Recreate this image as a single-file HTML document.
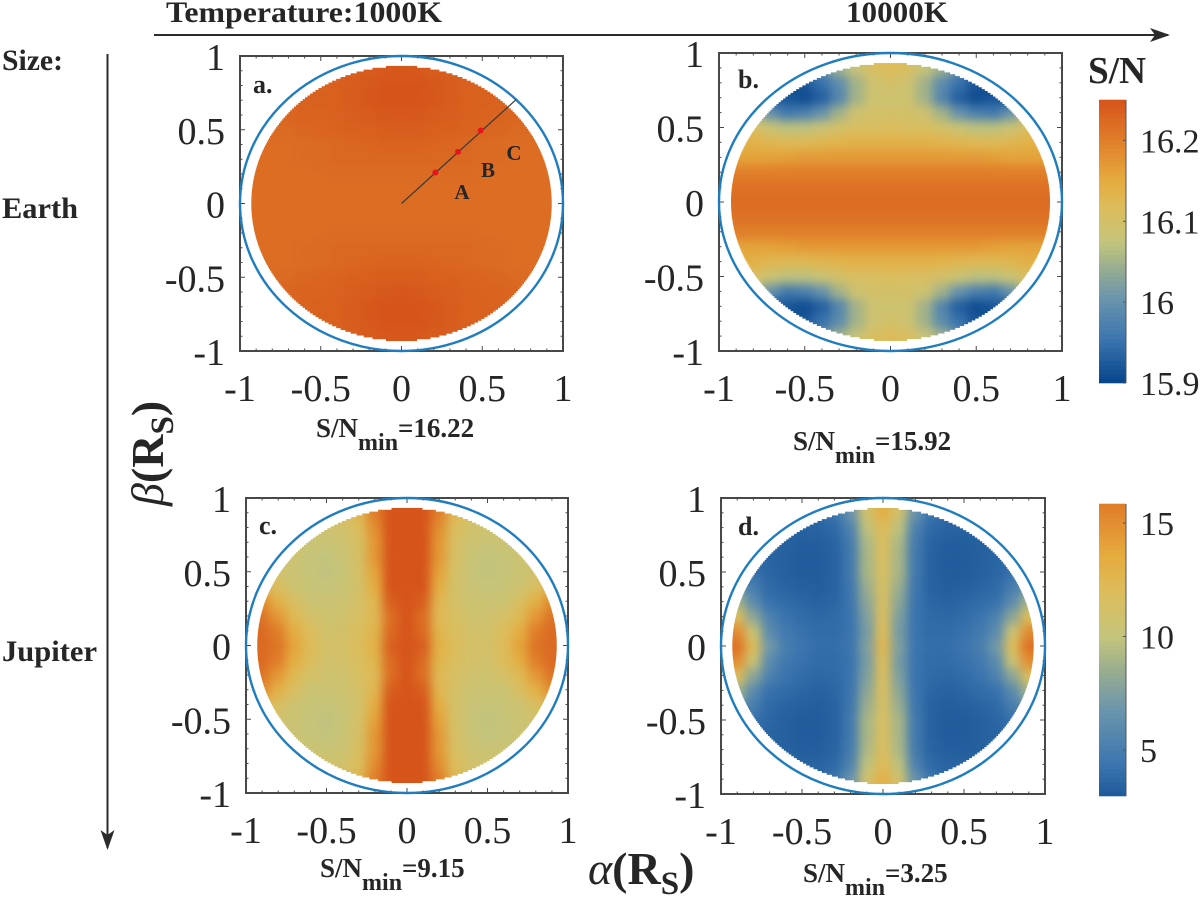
<!DOCTYPE html>
<html lang="en">
<head>
<meta charset="utf-8">
<title>S/N maps by temperature and planet size</title>
<style>
html,body{margin:0;padding:0;background:#fff;width:1200px;height:904px;overflow:hidden}
svg{display:block}
text{font-family:"Liberation Serif","DejaVu Serif",serif;fill:#262626}
.b{font-weight:bold}
</style>
</head>
<body>
<svg id="figure" xmlns="http://www.w3.org/2000/svg" width="1200" height="904" viewBox="0 0 1200 904">
  <defs>
    <filter id="smooth" x="0" y="0" width="1200" height="904" filterUnits="userSpaceOnUse" color-interpolation-filters="sRGB">
      <feGaussianBlur stdDeviation="5"/>
    </filter>
    <marker id="head" viewBox="0 0 20 14" refX="18" refY="7" markerWidth="20" markerHeight="14" markerUnits="userSpaceOnUse" orient="auto">
      <path d="M0 0 L20 7 L0 14 L5 7 Z" fill="#2b2b2b"/>
    </marker>
  </defs>

  <g>
    <text class="b" x="166" y="22" font-size="30" textLength="276" lengthAdjust="spacingAndGlyphs">Temperature:1000K</text>
    <text class="b" x="846" y="22" font-size="30" textLength="102" lengthAdjust="spacingAndGlyphs">10000K</text>
    <line x1="154" y1="35" x2="1168" y2="35" stroke="#2b2b2b" stroke-width="2" marker-end="url(#head)"/>
  </g>

  <g>
    <text class="b" x="2" y="70" font-size="30" textLength="61" lengthAdjust="spacingAndGlyphs">Size:</text>
    <text class="b" x="2" y="218" font-size="30" textLength="76" lengthAdjust="spacingAndGlyphs">Earth</text>
    <text class="b" x="2" y="661" font-size="30" textLength="95" lengthAdjust="spacingAndGlyphs">Jupiter</text>
    <line x1="107.5" y1="54" x2="107.5" y2="848" stroke="#2b2b2b" stroke-width="2" marker-end="url(#head)"/>
  </g>

  <g id="panels"></g>

  <g>
    <text class="b" x="316" y="437" font-size="27">S/N<tspan font-size="24" dy="13">min</tspan><tspan dy="-13">=16.22</tspan></text>
    <text class="b" x="793" y="450" font-size="27">S/N<tspan font-size="24" dy="13">min</tspan><tspan dy="-13">=15.92</tspan></text>
    <text class="b" x="320" y="877" font-size="27">S/N<tspan font-size="24" dy="13">min</tspan><tspan dy="-13">=9.15</tspan></text>
    <text class="b" x="803" y="882" font-size="27">S/N<tspan font-size="24" dy="13">min</tspan><tspan dy="-13">=3.25</tspan></text>
    <text class="b" x="1088" y="83" font-size="38" textLength="58" lengthAdjust="spacingAndGlyphs">S/N</text>
    <text x="588" y="884" font-size="46"><tspan font-style="italic">α</tspan><tspan font-weight="bold">(R</tspan><tspan font-weight="bold" font-size="33" dy="10">S</tspan><tspan font-weight="bold" dy="-10">)</tspan></text>
    <text transform="translate(163,506) rotate(-90)" font-size="46"><tspan font-style="italic">β</tspan><tspan font-weight="bold">(R</tspan><tspan font-weight="bold" font-size="33" dy="10">S</tspan><tspan font-weight="bold" dy="-10">)</tspan></text>
  </g>

  <g id="colorbars"></g>
</svg>

<script>
// Chart data: S/N on one quadrant grid. Rows are |beta| = 0..1, columns are |alpha| = 0..1, in steps of 0.1.
const gridCoords = [0, 0.1, 0.2, 0.3, 0.4, 0.5, 0.6, 0.7, 0.8, 0.9, 1];
const axisTicks = [-1, -0.5, 0, 0.5, 1];
const axisTickLabels = ["-1", "-0.5", "0", "0.5", "1"];

const snrA = [
  [16.22,16.22,16.22,16.22,16.22,16.22,16.22,16.22,16.22,16.22,16.22],
  [16.22,16.22,16.22,16.22,16.22,16.22,16.22,16.22,16.22,16.22,16.22],
  [16.222,16.222,16.222,16.222,16.222,16.22,16.22,16.22,16.22,16.22,16.22],
  [16.226,16.226,16.226,16.226,16.226,16.224,16.222,16.22,16.22,16.22,16.22],
  [16.232,16.232,16.23,16.228,16.226,16.224,16.222,16.22,16.22,16.22,16.22],
  [16.238,16.238,16.236,16.234,16.232,16.23,16.228,16.224,16.222,16.222,16.222],
  [16.246,16.245,16.242,16.238,16.235,16.233,16.232,16.23,16.226,16.224,16.224],
  [16.25,16.25,16.246,16.24,16.236,16.234,16.233,16.232,16.23,16.228,16.228],
  [16.25,16.25,16.245,16.24,16.236,16.234,16.233,16.232,16.232,16.232,16.232],
  [16.246,16.245,16.242,16.238,16.234,16.233,16.233,16.233,16.233,16.233,16.233],
  [16.246,16.245,16.242,16.238,16.234,16.233,16.233,16.233,16.233,16.233,16.233]
];
const snrB = [
  [16.22,16.22,16.22,16.22,16.22,16.22,16.22,16.22,16.22,16.22,16.22],
  [16.215,16.215,16.215,16.215,16.215,16.215,16.215,16.215,16.215,16.215,16.215],
  [16.2,16.2,16.2,16.2,16.2,16.2,16.2,16.2,16.2,16.2,16.2],
  [16.17,16.17,16.17,16.17,16.17,16.17,16.165,16.16,16.16,16.16,16.16],
  [16.14,16.14,16.14,16.135,16.13,16.125,16.125,16.13,16.14,16.14,16.14],
  [16.115,16.11,16.11,16.1,16.085,16.07,16.07,16.085,16.11,16.12,16.12],
  [16.1,16.1,16.09,16.05,16.0,15.97,15.96,16.0,16.07,16.1,16.1],
  [16.09,16.09,16.05,15.98,15.93,15.91,15.92,15.92,15.97,16.05,16.05],
  [16.1,16.09,16.05,15.99,15.95,15.92,15.9,15.9,15.94,16.0,16.0],
  [16.12,16.11,16.08,16.05,16.0,15.95,15.91,15.91,15.94,16.0,16.0],
  [16.12,16.11,16.08,16.05,16.0,15.95,15.91,15.91,15.94,16.0,16.0]
];
const snrC = [
  [16,15.5,11.8,10.8,10.3,10.2,11,12.5,14.5,15,15],
  [16,15,11.5,10.7,10.2,10.1,10.8,12,14,15,15],
  [16,14.8,11.2,10.5,10,9.9,10.3,11.2,13,14.5,15],
  [16,15.5,11.4,10.3,9.8,9.7,9.7,10.6,11.8,13.5,14],
  [16,16,12,10.2,9.6,9.4,9.5,9.8,10.6,11.5,12],
  [16,16,12.5,10.3,9.5,9.15,9.4,9.7,10,10.4,10.6],
  [16,16,13,10.4,9.6,9.2,9.4,9.7,10,10.2,10.2],
  [16,16,13,10.5,9.8,9.6,9.7,9.9,10,10.2,10.2],
  [16,16,13.4,10.8,10.1,9.9,10,10.1,10.2,10.2,10.2],
  [16,16,14,11.3,10.5,10.3,10.3,10.3,10.3,10.3,10.3],
  [16,16,14,11.3,10.5,10.3,10.3,10.3,10.3,10.3,10.3]
];
const snrD = [
  [12.5,7.5,4.4,4,4,4.4,5,7,12,16.5,17],
  [12,7.2,4.3,3.9,3.9,4.2,4.7,6,10.5,15,16],
  [11.8,7.5,4.3,3.8,3.7,3.9,4.3,5.3,8,12,13],
  [11.6,8,4.4,3.6,3.4,3.6,3.9,4.2,6,9,10],
  [11.5,8.5,4.5,3.4,3.2,3.3,3.5,3.8,5,6.5,7],
  [11.5,9,4.7,3.4,3.1,3.1,3.3,3.6,4.1,4.8,5],
  [11.6,9,4.7,3.4,3.1,3.1,3.3,3.5,3.8,4.2,4.2],
  [11.8,9.2,4.8,3.5,3.2,3.2,3.3,3.6,3.8,4,4],
  [12.2,9.8,5.3,3.8,3.5,3.4,3.5,3.7,3.9,4,4],
  [13.2,11,6.6,4.3,3.8,3.7,3.7,3.8,4,4.2,4.2],
  [13.2,11,6.6,4.3,3.8,3.7,3.7,3.8,4,4.2,4.2]
];

// Colour scale ranges
const domainA = [15.9, 16.25];
const domainB = [15.9, 16.25];
const domainC = [2.5, 16];
const domainD = [1.85, 18.15];

// Colorbar tick labels
const topBarTicks = [15.9, 16, 16.1, 16.2];
const topBarLabels = ["15.9", "16", "16.1", "16.2"];
const bottomBarTicks = [5, 10, 15];
const bottomBarLabels = ["5", "10", "15"];

// Marked transit points in panel a
const transitPointsAlpha = [0.21, 0.35, 0.49];
const transitPointsBeta = [0.21, 0.35, 0.495];

const NS = 'http://www.w3.org/2000/svg';
function el(tag, props, parent) {
  const n = document.createElementNS(NS, tag);
  for (const k in props) n.setAttribute(k, props[k]);
  if (parent) parent.appendChild(n);
  return n;
}

const colorStops = [
  [0, [6, 68, 138]], [0.15, [58, 116, 174]], [0.3, [106, 149, 173]], [0.42, [158, 176, 140]],
  [0.5, [196, 197, 124]], [0.62, [220, 189, 91]], [0.72, [229, 171, 62]], [0.85, [224, 128, 42]], [1, [214, 84, 26]]
];
function colormap(t) {
  t = Math.max(0, Math.min(1, t));
  for (let i = 1; i < colorStops.length; i++) {
    if (t <= colorStops[i][0]) {
      const a = colorStops[i - 1], b = colorStops[i];
      const f = (t - a[0]) / (b[0] - a[0]);
      const c = a[1].map((v, j) => Math.round(v + (b[1][j] - v) * f));
      return 'rgb(' + c.join(',') + ')';
    }
  }
  return 'rgb(214,84,26)';
}

const panels = [
  { id: 'a', values: snrA, domain: domainA, left: 240, right: 563, top: 56, bottom: 351, tagX: 253, tagY: 93 },
  { id: 'b', values: snrB, domain: domainB, left: 719, right: 1062, top: 53, bottom: 351, tagX: 738, tagY: 88 },
  { id: 'c', values: snrC, domain: domainC, left: 246, right: 568, top: 498, bottom: 793, tagX: 259, tagY: 534 },
  { id: 'd', values: snrD, domain: domainD, left: 721, right: 1045, top: 498, bottom: 794, tagX: 738, tagY: 535 }
];

const defs = document.querySelector('#figure defs');
const panelsRoot = document.getElementById('panels');

panels.forEach(function (p) {
  const sx = v => p.left + (v + 1) / 2 * (p.right - p.left);
  const sy = v => p.bottom - (v + 1) / 2 * (p.bottom - p.top);
  const colorOf = v => colormap((v - p.domain[0]) / (p.domain[1] - p.domain[0]));

  const g = el('g', {}, panelsRoot);
  
  

  // stepped disc mask with the fine staircase of the sampled grid
  const clip = el('clipPath', { id: 'disc-' + p.id }, defs);
  const R = 0.93, step = 0.0125;
  for (let k = -74; k <= 74; k++) {
    const yy = k * step;
    const hw = Math.sqrt(Math.max(0, R * R - yy * yy));
    el('rect', {
      x: sx(-hw), y: sy(yy + step / 2) - 0.2,
      width: sx(hw) - sx(-hw), height: sy(yy - step / 2) - sy(yy + step / 2) + 0.4
    }, clip);
  }

  const clipG = el('g', { 'clip-path': 'url(#disc-' + p.id + ')' }, g);
  const heat = el('g', { filter: 'url(#smooth)' }, clipG);
  
  

  const n = gridCoords.length;
  for (let iy = -(n - 1); iy <= n - 1; iy++) {
    for (let ix = -(n - 1); ix <= n - 1; ix++) {
      const ax = gridCoords[Math.abs(ix)] * Math.sign(ix);
      const ay = gridCoords[Math.abs(iy)] * Math.sign(iy);
      const v = p.values[Math.abs(iy)][Math.abs(ix)];
      const cell = el('rect', {
        x: sx(ax - 0.05) - 0.3, y: sy(ay + 0.05) - 0.3,
        width: sx(ax + 0.05) - sx(ax - 0.05) + 0.6,
        height: sy(ay - 0.05) - sy(ay + 0.05) + 0.6,
        fill: colorOf(v)
      }, heat);
      
      
    }
  }

  // axes box
  const box = el('rect', {
    x: p.left, y: p.top, width: p.right - p.left, height: p.bottom - p.top,
    fill: 'none', stroke: '#484848', 'stroke-width': 2
  }, g);
  
  

  // minor and major ticks on all sides
  for (let i = -10; i <= 10; i++) {
    const v = i / 10;
    const len = i % 5 === 0 ? 5 : 2.5;
    const segs = [
      [sx(v), p.bottom, sx(v), p.bottom - len], [sx(v), p.top, sx(v), p.top + len],
      [p.left, sy(v), p.left + len, sy(v)], [p.right, sy(v), p.right - len, sy(v)]
    ];
    segs.forEach(function (s) {
      const t = el('line', { x1: s[0], y1: s[1], x2: s[2], y2: s[3], stroke: '#484848', 'stroke-width': 1 }, g);
      
      
    });
  }

  // tick labels
  axisTicks.forEach(function (v, i) {
    const tx = el('text', { x: sx(v), y: p.bottom + 50, 'font-size': 38, 'text-anchor': 'middle' }, g);
    tx.textContent = axisTickLabels[i];
    
    
    const ty = el('text', { x: p.left - 15, y: sy(v) + 14, 'font-size': 38, 'text-anchor': 'end' }, g);
    ty.textContent = axisTickLabels[i];
    
    
  });

  // stellar limb outline
  const limb = el('ellipse', {
    cx: sx(0), cy: sy(0), rx: (p.right - p.left) / 2, ry: (p.bottom - p.top) / 2,
    fill: 'none', stroke: '#1f7dbf', 'stroke-width': 2.4
  }, g);
  
  

  const tag = el('text', { x: p.tagX, y: p.tagY, 'font-size': 26, 'font-weight': 'bold' }, g);
  tag.textContent = p.id + '.';
  
  

  if (p.id === 'a') {
    const ray = el('line', { x1: sx(0), y1: sy(0), x2: sx(0.71), y2: sy(0.705), stroke: '#3a3a3a', 'stroke-width': 1.2 }, g);
    
    
    transitPointsAlpha.forEach(function (a, i) {
      const dot = el('circle', { cx: sx(a), cy: sy(transitPointsBeta[i]), r: 3, fill: '#e8141c' }, g);
      
      
    });
    [['A', 462, 199], ['B', 488, 177], ['C', 514, 160]].forEach(function (l) {
      const t = el('text', { x: l[1], y: l[2], 'font-size': 21, 'font-weight': 'bold', 'text-anchor': 'middle' }, g);
      t.textContent = l[0];
      
      
    });
  }
});

// Colorbars
const barsRoot = document.getElementById('colorbars');
function drawBar(name, domain, lo, hi, top, bottom, ticks, labels) {
  const left = 1099, right = 1126;
  const sv = v => bottom - (v - lo) / (hi - lo) * (bottom - top);
  const g = el('g', {}, barsRoot);
  
  
  const steps = 64;
  for (let i = 0; i < steps; i++) {
    const v0 = lo + (hi - lo) * i / steps, v1 = lo + (hi - lo) * (i + 1) / steps;
    const r = el('rect', {
      x: left, y: sv(v1) - 0.3, width: right - left, height: sv(v0) - sv(v1) + 0.6,
      fill: colormap(((v0 + v1) / 2 - domain[0]) / (domain[1] - domain[0]))
    }, g);
    
    
  }
  const frame = el('line', { x1: right, y1: top, x2: right, y2: bottom, stroke: '#555', 'stroke-width': 1 }, g);
  
  
  ticks.forEach(function (v, i) {
    const t = el('line', { x1: right - 3, y1: sv(v), x2: right, y2: sv(v), stroke: '#555', 'stroke-width': 1 }, g);
    
    
    const lab = el('text', { x: 1140, y: sv(v) + 12, 'font-size': 34 }, g);
    lab.textContent = labels[i];
    
    
  });
}
drawBar('colorbar-top', domainB, 15.9, 16.25, 100, 383, topBarTicks, topBarLabels);
drawBar('colorbar-bottom', domainD, 2.97, 15.84, 504, 796, bottomBarTicks, bottomBarLabels);
</script>
</body>
</html>
